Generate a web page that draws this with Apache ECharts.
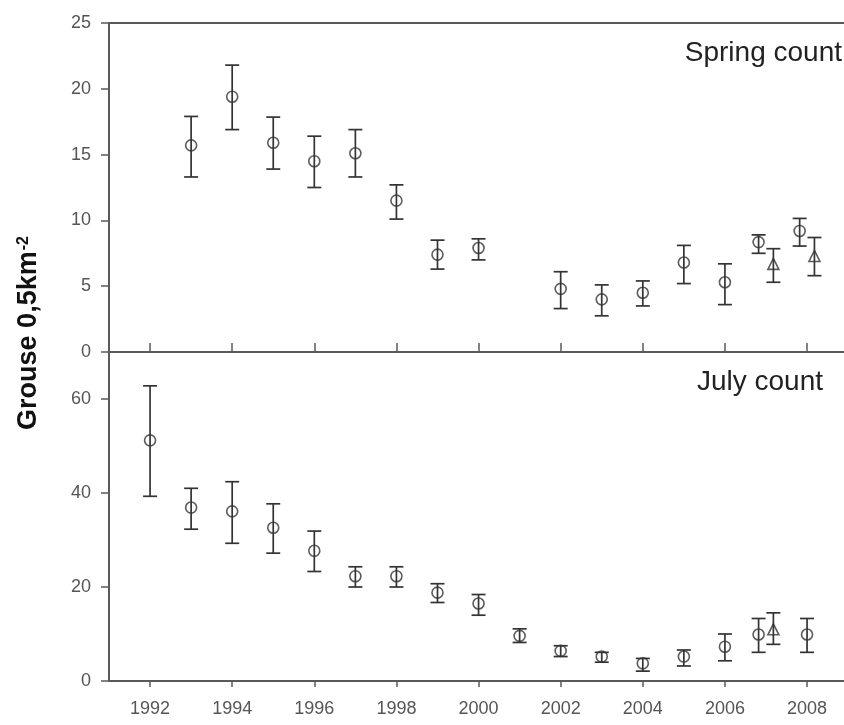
<!DOCTYPE html>
<html>
<head>
<meta charset="utf-8">
<title>Grouse counts</title>
<script src="https://cdn.jsdelivr.net/npm/echarts@6/dist/echarts.min.js"></script>
<style>
  html, body { margin: 0; padding: 0; background: #fff; }
  #chart { width: 844px; height: 725px; }
</style>
</head>
<body>
<div id="chart"></div>
<script>
// Year ticks shared by both panels
const yearTicks = [1992, 1994, 1996, 1998, 2000, 2002, 2004, 2006, 2008];

// Spring count, circles (mean with lower / upper limits)
const springYears = [1993, 1994, 1995, 1996, 1997, 1998, 1999, 2000, 2002, 2003, 2004, 2005, 2006, 2007, 2008];
const springMean  = [15.7, 19.4, 15.9, 14.5, 15.1, 11.5, 7.4, 7.9, 4.8, 4.0, 4.5, 6.8, 5.3, 8.35, 9.2];
const springLow   = [13.3, 16.9, 13.9, 12.5, 13.3, 10.1, 6.3, 7.0, 3.3, 2.75, 3.5, 5.2, 3.6, 7.5, 8.05];
const springHigh  = [17.9, 21.8, 17.85, 16.4, 16.9, 12.7, 8.5, 8.6, 6.1, 5.1, 5.4, 8.1, 6.7, 8.9, 10.15];

// Spring count, triangles
const springTriYears = [2007, 2008];
const springTriMean  = [6.7, 7.3];
const springTriLow   = [5.3, 5.8];
const springTriHigh  = [7.85, 8.7];

// July count, circles
const julyYears = [1992, 1993, 1994, 1995, 1996, 1997, 1998, 1999, 2000, 2001, 2002, 2003, 2004, 2005, 2006, 2007, 2008];
const julyMean  = [51.2, 36.9, 36.1, 32.6, 27.7, 22.3, 22.3, 18.8, 16.5, 9.6, 6.4, 5.2, 3.75, 5.2, 7.3, 9.9, 9.9];
const julyLow   = [39.3, 32.3, 29.3, 27.2, 23.3, 20.0, 20.0, 16.7, 14.0, 8.2, 5.2, 4.0, 2.1, 3.2, 4.3, 6.1, 6.1];
const julyHigh  = [62.8, 41.0, 42.4, 37.7, 31.9, 24.3, 24.3, 20.7, 18.4, 11.1, 7.5, 6.1, 4.8, 6.6, 10.0, 13.3, 13.3];

// July count, triangles
const julyTriYears = [2007];
const julyTriMean  = [11.0];
const julyTriLow   = [7.8];
const julyTriHigh  = [14.5];

const springTicks = [0, 5, 10, 15, 20, 25];
const julyTicks = [0, 20, 40, 60];

const INK = '#333';
const AXIS = '#5a5a5a';
const LABEL = '#555';
const FONT = '"Liberation Sans", Arial, sans-serif';
const DODGE = 0.18; // years shifted apart when both symbols share a year

function buildRows(years, mean, low, high, otherYears, shift) {
  return years.map((y, i) => {
    const x = otherYears.includes(y) ? y + shift : y;
    return [x, mean[i], low[i], high[i]];
  });
}

const springCirc = buildRows(springYears, springMean, springLow, springHigh, springTriYears, -DODGE);
const springTri  = buildRows(springTriYears, springTriMean, springTriLow, springTriHigh, springYears, DODGE);
const julyCirc   = buildRows(julyYears, julyMean, julyLow, julyHigh, julyTriYears, -DODGE);
const julyTri    = buildRows(julyTriYears, julyTriMean, julyTriLow, julyTriHigh, julyYears, DODGE);

function errorBars(params, api) {
  const x = api.value(0);
  const lo = api.coord([x, api.value(2)]);
  const hi = api.coord([x, api.value(3)]);
  const half = 7;
  const st = { stroke: INK, lineWidth: 1.7 };
  return {
    type: 'group',
    children: [
      { type: 'line', shape: { x1: lo[0], y1: lo[1], x2: hi[0], y2: hi[1] }, style: st },
      { type: 'line', shape: { x1: hi[0] - half, y1: hi[1], x2: hi[0] + half, y2: hi[1] }, style: st },
      { type: 'line', shape: { x1: lo[0] - half, y1: lo[1], x2: lo[0] + half, y2: lo[1] }, style: st }
    ]
  };
}

function barSeries(rows, idx) {
  return {
    type: 'custom', xAxisIndex: idx, yAxisIndex: idx, z: 3,
    renderItem: errorBars, encode: { x: 0, y: [2, 3] }, data: rows, clip: false
  };
}

function pointSeries(rows, idx, symbol, size) {
  return {
    type: 'scatter', xAxisIndex: idx, yAxisIndex: idx, z: 2,
    symbol: symbol, symbolSize: size,
    itemStyle: { color: 'rgba(0,0,0,0)', borderColor: INK, borderWidth: 1.6 },
    encode: { x: 0, y: 1 },
    data: rows.map(r => [r[0], r[1]])
  };
}

const chart = echarts.init(document.getElementById('chart'), null, { renderer: 'canvas' });

// x range runs a little past 2008 to the right edge of the page
const xBase = {
  type: 'value', min: 1991, max: 2008.9,
  axisLine: { show: true, lineStyle: { color: AXIS, width: 2 } },
  splitLine: { show: false }
};

const option = {
  backgroundColor: '#fff',
  animation: false,
  textStyle: { fontFamily: FONT },
  grid: [
    { left: 109, top: 23, right: 0, height: 329, show: false },
    { left: 109, top: 352, right: 0, height: 329, show: false }
  ],
  xAxis: [
    Object.assign({}, xBase, {
      gridIndex: 0, position: 'bottom',
      axisTick: { show: true, inside: true, length: 9, customValues: yearTicks, lineStyle: { color: AXIS, width: 1.5 } },
      axisLabel: { show: false }
    }),
    Object.assign({}, xBase, {
      gridIndex: 1, position: 'bottom',
      axisTick: { show: true, inside: false, length: 6, customValues: yearTicks, lineStyle: { color: AXIS, width: 1.5 } },
      axisLabel: {
        show: true, customValues: yearTicks, margin: 19, color: LABEL, fontSize: 18, fontFamily: FONT,
        formatter: v => String(v)
      }
    }),
    // top frame line of the upper panel
    Object.assign({}, xBase, {
      gridIndex: 0, position: 'top',
      axisTick: { show: false }, axisLabel: { show: false }
    })
  ],
  yAxis: [
    {
      type: 'value', gridIndex: 0, min: 0, max: 25, interval: 5,
      axisLine: { show: true, lineStyle: { color: AXIS, width: 2 } },
      axisTick: { show: true, length: 8, customValues: springTicks, lineStyle: { color: AXIS, width: 1.5 } },
      axisLabel: { customValues: springTicks, margin: 18, color: LABEL, fontSize: 18, fontFamily: FONT },
      splitLine: { show: false }
    },
    {
      type: 'value', gridIndex: 1, min: 0, max: 70,
      axisLine: { show: true, lineStyle: { color: AXIS, width: 2 } },
      axisTick: { show: true, length: 8, customValues: julyTicks, lineStyle: { color: AXIS, width: 1.5 } },
      axisLabel: { customValues: julyTicks, margin: 18, color: LABEL, fontSize: 18, fontFamily: FONT },
      splitLine: { show: false }
    }
  ],
  graphic: [
    {
      type: 'text', x: 842, y: 53,
      style: { text: 'Spring count', fontSize: 28, fontFamily: FONT, fill: '#222', align: 'right', verticalAlign: 'middle' }
    },
    {
      type: 'text', x: 823, y: 382,
      style: { text: 'July count', fontSize: 28, fontFamily: FONT, fill: '#222', align: 'right', verticalAlign: 'middle' }
    },
    {
      type: 'text', x: 29, y: 333, rotation: Math.PI / 2,
      style: {
        text: '{b|Grouse 0,5km}{s|-2}',
        align: 'center', verticalAlign: 'middle',
        rich: {
          b: { fontSize: 27, fontWeight: 'bold', fontFamily: FONT, fill: '#111' },
          s: { fontSize: 16, fontWeight: 'bold', fontFamily: FONT, fill: '#111', verticalAlign: 'top', padding: [0, 0, 11, 1] }
        }
      }
    }
  ],
  series: [
    pointSeries(springCirc, 0, 'circle', 11),
    pointSeries(springTri, 0, 'triangle', 11),
    barSeries(springCirc, 0),
    barSeries(springTri, 0),
    pointSeries(julyCirc, 1, 'circle', 11),
    pointSeries(julyTri, 1, 'triangle', 11),
    barSeries(julyCirc, 1),
    barSeries(julyTri, 1)
  ]
};

chart.setOption(option);
</script>
</body>
</html>
